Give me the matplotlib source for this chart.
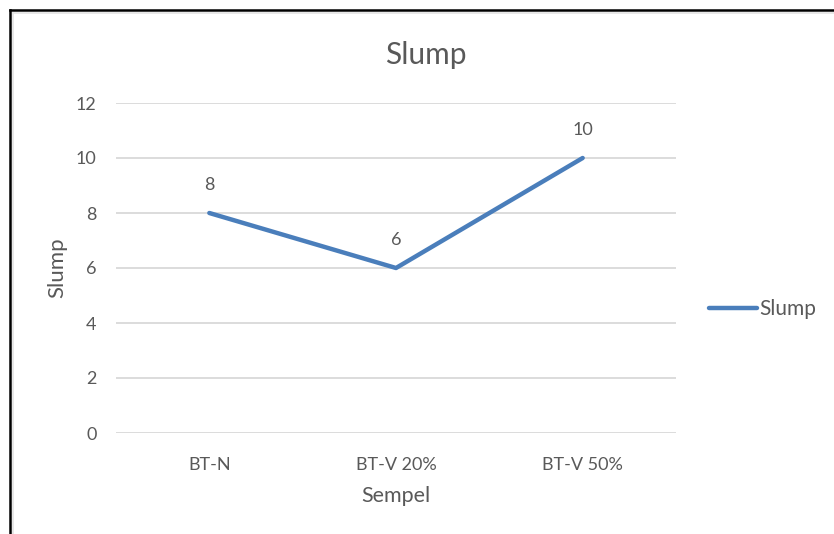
import matplotlib
matplotlib.use("Agg")
import matplotlib.pyplot as plt
from matplotlib.lines import Line2D

categories = ["BT-N", "BT-V 20%", "BT-V 50%"]
slump = [8, 6, 10]
yticks = [0, 2, 4, 6, 8, 10, 12]

plt.rcParams['font.family'] = ['Lato', 'DejaVu Sans']
TXT = '#595959'
BLUE = '#4A7EBB'
GRID = '#D9D9D9'

W, H = 834, 534
fig = plt.figure(figsize=(W/100, H/100), dpi=100)
ax = fig.add_axes([116/W, 1-433/H, (676-116)/W, (433-103)/H])

x = list(range(len(categories)))
ax.plot(x, slump, color=BLUE, lw=3.2, solid_capstyle='round', label='Slump', zorder=3)
for xi, v in zip(x, slump):
    ax.annotate(str(v), (xi, v), xytext=(0, 20), textcoords='offset points',
                ha='center', va='center', fontsize=13, color=TXT)

ax.set_xlim(-0.5, 2.5)
ax.set_ylim(0, 12)
ax.set_yticks(yticks)
ax.set_xticks(x)
ax.set_xticklabels(categories)
ax.tick_params(axis='both', length=0, labelsize=13, labelcolor=TXT)
ax.tick_params(axis='y', pad=14)
ax.tick_params(axis='x', pad=17)
ax.grid(axis='y', color=GRID, lw=1.3)
ax.set_axisbelow(True)
for s in ax.spines.values():
    s.set_visible(False)

fig.text(426/W, 1-55/H, 'Slump', ha='center', va='center', fontsize=21.5, color=TXT)
fig.text(57/W, 1-268/H, 'Slump', rotation=90, ha='center', va='center', fontsize=16, color=TXT)
fig.text(396/W, 1-496/H, 'Sempel', ha='center', va='center', fontsize=15.5, color=TXT)

fig.legend(handles=[Line2D([], [], color=BLUE, lw=3.2, solid_capstyle='round')], labels=['Slump'],
           loc='center left', bbox_to_anchor=(709/W, 1-309/H), frameon=False,
           fontsize=15, labelcolor=TXT, handlelength=2.3, handletextpad=0.1, borderpad=0, borderaxespad=0)

# border (top and left)
fig.add_artist(Line2D([10/W, 10/W], [0, 1-10/H], color='black', lw=1.8, transform=fig.transFigure))
fig.add_artist(Line2D([10/W, 1], [1-10/H, 1-10/H], color='black', lw=1.8, transform=fig.transFigure))
fig.add_artist(Line2D([12.5/W, 12.5/W], [0, 1-12.5/H], color='#E3E3E3', lw=1.2, transform=fig.transFigure))
fig.add_artist(Line2D([12.5/W, 1], [1-12.5/H, 1-12.5/H], color='#E3E3E3', lw=1.2, transform=fig.transFigure))

fig.savefig('out.png', dpi=100)
